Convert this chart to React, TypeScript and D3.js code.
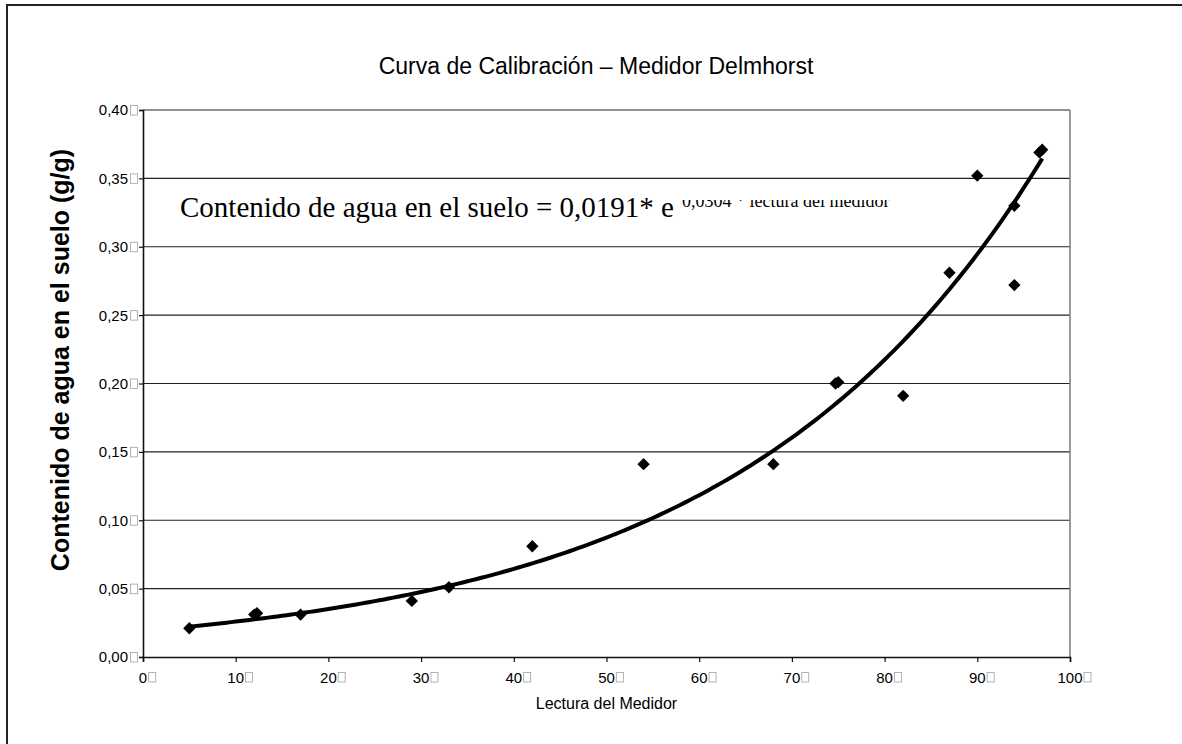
import { useEffect, useRef } from 'react'
import * as d3 from 'd3'

// Lecturas del medidor y contenido de agua medido
const lecturas = [5, 12, 12.3, 17, 29, 33, 42, 54, 68, 74.7, 75, 82, 87, 90, 94, 94, 96.7, 97]
const contenido = [0.021, 0.031, 0.032, 0.031, 0.041, 0.051, 0.081, 0.141, 0.141, 0.2, 0.201, 0.191, 0.281, 0.352, 0.33, 0.272, 0.369, 0.371]

// Linea de tendencia exponencial: y = a * e^(b * x)
const trendA = 0.0191
const trendB = 0.0304
const trendFrom = 5
const trendTo = 97

const xTicks = [0, 10, 20, 30, 40, 50, 60, 70, 80, 90, 100]
const yTicks = [0, 0.05, 0.1, 0.15, 0.2, 0.25, 0.3, 0.35, 0.4]

const W = 1182
const H = 744

export default function App() {
  const svgRef = useRef<SVGSVGElement>(null)

  useEffect(() => {
    if (!svgRef.current) return
    const svg = d3.select(svgRef.current)
    svg.selectAll('*').remove()

    const left = 143
    const right = 1070
    const top = 110
    const bottom = 657

    const x = d3.scaleLinear().domain([0, 100]).range([left, right])
    const y = d3.scaleLinear().domain([0, 0.4]).range([bottom, top])

    svg.append('rect').attr('width', W).attr('height', H).attr('fill', '#fff')

    // outer chart border (continues past the window)
    svg.append('rect')
      .attr('x', 7).attr('y', 5)
      .attr('width', W + 20).attr('height', H + 20)
      .attr('fill', 'none').attr('stroke', '#222').attr('stroke-width', 2)

    // title
    svg.append('text')
      .attr('x', 596).attr('y', 74)
      .attr('text-anchor', 'middle')
      .attr('font-family', 'Liberation Sans, Arial, sans-serif')
      .attr('font-size', 23)
      .attr('fill', '#000')
      .text('Curva de Calibración – Medidor Delmhorst')

    // gridlines
    svg.append('g')
      .selectAll('line')
      .data(yTicks.slice(1))
      .join('line')
      .attr('x1', left).attr('x2', right)
      .attr('y1', (d) => y(d)).attr('y2', (d) => y(d))
      .attr('stroke', '#222').attr('stroke-width', 1.2)

    // plot right border
    svg.append('line')
      .attr('x1', right).attr('x2', right).attr('y1', top).attr('y2', bottom)
      .attr('stroke', '#808080').attr('stroke-width', 1.6)

    // axes
    const xAxis = d3.axisBottom(x).tickValues(xTicks).tickSize(5).tickFormat(() => '')
    const gx = svg.append('g').attr('transform', `translate(0,${bottom})`).call(xAxis)
    gx.select('.domain').attr('stroke', '#111').attr('stroke-width', 1.6)
    gx.selectAll('.tick line').attr('stroke', '#111').attr('stroke-width', 1.2)

    const yAxis = d3.axisLeft(y).tickValues(yTicks).tickSize(4).tickFormat(() => '')
    const gy = svg.append('g').attr('transform', `translate(${left},0)`).call(yAxis)
    gy.select('.domain').attr('stroke', '#111').attr('stroke-width', 1.6)
    gy.selectAll('.tick line').attr('stroke', '#111').attr('stroke-width', 1.2)

    const tickFont = 'Liberation Sans, Arial, sans-serif'
    const digitW = 15 * 0.556

    // x tick labels with the missing-glyph box after each number
    const xl = svg.append('g')
    xTicks.forEach((t) => {
      const label = String(t)
      const half = (label.length * digitW) / 2
      xl.append('text')
        .attr('x', x(t)).attr('y', 682.5)
        .attr('text-anchor', 'middle')
        .attr('font-family', tickFont).attr('font-size', 15)
        .text(label)
      xl.append('rect')
        .attr('x', x(t) + half + 1.5).attr('y', 672.5)
        .attr('width', 7).attr('height', 9.5)
        .attr('fill', 'none').attr('stroke', '#aaa').attr('stroke-width', 0.9)
    })

    // y tick labels
    const yl = svg.append('g')
    yTicks.forEach((t) => {
      yl.append('text')
        .attr('x', 128).attr('y', y(t) + 5.4)
        .attr('text-anchor', 'end')
        .attr('font-family', tickFont).attr('font-size', 15)
        .text(d3.format('.2f')(t).replace('.', ','))
      yl.append('rect')
        .attr('x', 130.5).attr('y', y(t) - 4.5)
        .attr('width', 7).attr('height', 9.5)
        .attr('fill', 'none').attr('stroke', '#aaa').attr('stroke-width', 0.9)
    })

    // axis titles
    svg.append('text')
      .attr('x', (left + right) / 2).attr('y', 709)
      .attr('text-anchor', 'middle')
      .attr('font-family', tickFont).attr('font-size', 16)
      .text('Lectura del Medidor')

    svg.append('text')
      .attr('transform', `translate(69,360) rotate(-90)`)
      .attr('text-anchor', 'middle')
      .attr('font-family', tickFont).attr('font-size', 25)
      .attr('font-weight', 'bold')
      .text('Contenido de agua en el suelo (g/g)')

    // trend line
    const trendX = d3.range(trendFrom, trendTo + 0.001, 0.5)
    const line = d3.line<number>()
      .x((d) => x(d))
      .y((d) => y(trendA * Math.exp(trendB * d)))
      .curve(d3.curveMonotoneX)
    svg.append('path')
      .datum(trendX)
      .attr('d', line)
      .attr('fill', 'none').attr('stroke', '#000').attr('stroke-width', 4)

    // data markers
    const diamond = d3.symbol().type(d3.symbolSquare).size(76)
    svg.append('g')
      .selectAll('path')
      .data(lecturas.map((l, i) => [l, contenido[i]]))
      .join('path')
      .attr('d', diamond)
      .attr('transform', (d) => `translate(${x(d[0])},${y(d[1])}) rotate(45)`)
      .attr('fill', '#000')

    // equation label
    svg.append('defs').append('clipPath').attr('id', 'supClip')
      .append('rect').attr('x', 0).attr('y', 200).attr('width', W).attr('height', 40)

    const eq = svg.append('text')
      .attr('x', 180).attr('y', 217)
      .attr('font-family', 'Liberation Serif, Times New Roman, serif')
      .attr('font-size', 29)
      .text('Contenido de agua en el suelo = 0,0191* e')
    const eqNode = eq.node() as SVGTextElement
    const eqEnd = 180 + eqNode.getComputedTextLength()

    svg.append('text')
      .attr('x', eqEnd + 8).attr('y', 207)
      .attr('font-family', 'Liberation Serif, Times New Roman, serif')
      .attr('font-size', 18)
      .attr('clip-path', 'url(#supClip)')
      .text('0,0304 * lectura del medidor')
  }, [])

  return (
    <svg
      ref={svgRef}
      width={W}
      height={H}
      style={{ position: 'absolute', left: 0, top: 0, display: 'block' }}
    />
  )
}
